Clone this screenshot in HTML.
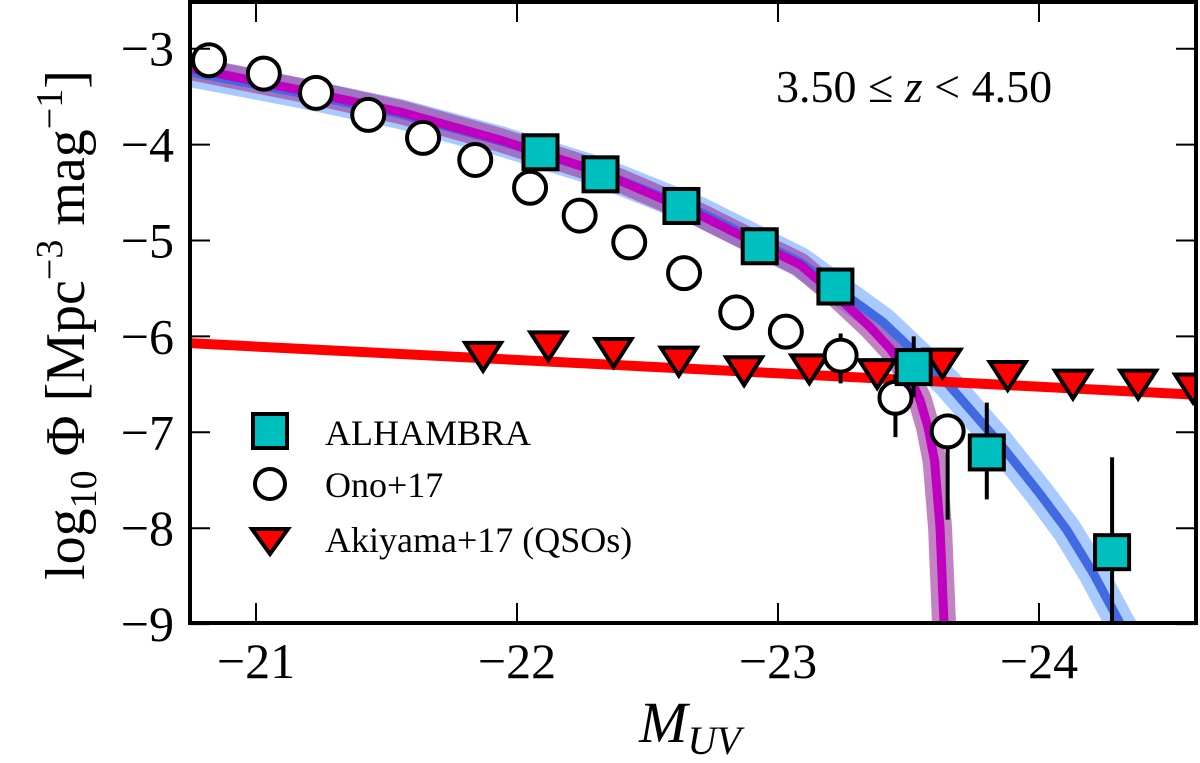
<!DOCTYPE html>
<html><head><meta charset="utf-8"><style>
body{margin:0;background:#fff;}
svg{display:block;}
text{font-family:"Liberation Serif",serif;}
</style></head><body>
<svg id="chart" width="1200" height="763" viewBox="0 0 1200 763" xmlns="http://www.w3.org/2000/svg">
<defs><clipPath id="plotclip"><rect x="190" y="2" width="1006" height="621"/></clipPath></defs>
<g id="plot" clip-path="url(#plotclip)"></g>
<g id="axes"></g>
</svg>
<script>
const xTicks=[-21,-22,-23,-24];
const yTicks=[-3,-4,-5,-6,-7,-8,-9];
const magentaM=[-20.6,-20.747,-21.169,-21.552,-21.935,-22.318,-22.701,-22.931,-23.084,-23.218,-23.352,-23.43,-23.50,-23.544,-23.575,-23.600,-23.621,-23.636,-23.645];
const magentaPhi=[-3.08,-3.201,-3.431,-3.660,-3.952,-4.286,-4.734,-5.047,-5.250,-5.560,-5.900,-6.130,-6.400,-6.663,-6.950,-7.300,-8.000,-8.988,-9.4];
const blueM=[-20.6,-20.747,-21.169,-21.552,-21.935,-22.318,-22.701,-23.084,-23.402,-23.648,-23.851,-24.00,-24.107,-24.21,-24.310,-24.40];
const bluePhi=[-3.12,-3.243,-3.462,-3.681,-3.962,-4.286,-4.703,-5.224,-5.850,-6.486,-7.120,-7.630,-8.020,-8.480,-8.988,-9.4];
const qsoLineM=[-20.6,-24.9];
const qsoLinePhi=[-6.05,-6.65];
const alhM=[-22.09,-22.32,-22.63,-22.93,-23.22,-23.52,-23.80,-24.28];
const alhPhi=[-4.08,-4.31,-4.64,-5.06,-5.48,-6.32,-7.21,-8.25];
const alhLo=[null,null,null,null,null,-6.63,-7.70,-9.6];
const alhHi=[null,null,null,null,null,-6.00,-6.69,-7.26];
const onoM=[-20.82,-21.03,-21.23,-21.43,-21.64,-21.84,-22.05,-22.24,-22.43,-22.64,-22.84,-23.03,-23.24,-23.45,-23.65];
const onoPhi=[-3.12,-3.26,-3.46,-3.69,-3.93,-4.16,-4.45,-4.74,-5.02,-5.34,-5.75,-5.95,-6.20,-6.64,-6.99];
const onoLo=[null,null,null,null,null,null,null,null,null,null,null,null,-6.49,-7.05,-7.91];
const onoHi=[null,null,null,null,null,null,null,null,null,null,null,null,-5.97,-6.40,-6.99];
const akiM=[-21.87,-22.12,-22.37,-22.62,-22.87,-23.12,-23.38,-23.63,-23.88,-24.13,-24.38,-24.59];
const akiPhi=[-6.18,-6.07,-6.14,-6.23,-6.33,-6.31,-6.36,-6.25,-6.38,-6.47,-6.47,-6.51];

const NS="http://www.w3.org/2000/svg";
const X=m=>256-(m+21)*261;
const Y=p=>48.7-(p+3)*95.9;
function mk(tag,attrs,parent){const e=document.createElementNS(NS,tag);for(const k in attrs)e.setAttribute(k,attrs[k]);parent.appendChild(e);return e;}
const plot=document.getElementById('plot');
const axes=document.getElementById('axes');
function pts(ms,ps){return ms.map((m,i)=>X(m)+','+Y(ps[i])).join(' ');}

let e;
e=mk('polyline',{points:pts(blueM,bluePhi),fill:'none',stroke:'#a8caff','stroke-width':30,'stroke-linejoin':'round'},plot);


e=mk('polyline',{points:pts(magentaM,magentaPhi),fill:'none',stroke:'#a040a0','stroke-opacity':0.65,'stroke-width':24,'stroke-linejoin':'round'},plot);


e=mk('polyline',{points:pts(blueM,bluePhi),fill:'none',stroke:'#4169e1','stroke-width':9,'stroke-linejoin':'round'},plot);


e=mk('polyline',{points:pts(magentaM,magentaPhi),fill:'none',stroke:'#bf00bf','stroke-width':9,'stroke-linejoin':'round'},plot);


e=mk('polyline',{points:pts(qsoLineM,qsoLinePhi),fill:'none',stroke:'#ff0000','stroke-width':10},plot);



function errbar(m,lo,hi,name){if(lo===null)return;const l=mk('line',{x1:X(m),x2:X(m),y1:Y(lo),y2:Y(hi),stroke:'#000','stroke-width':4},plot);

}
onoM.forEach((m,i)=>errbar(m,onoLo[i],onoHi[i],'ono-error-bar'));
alhM.forEach((m,i)=>errbar(m,alhLo[i],alhHi[i],'alhambra-error-bar'));

function tri(cx,cy,s){return (cx-s)+','+(cy-s*0.6)+' '+(cx+s)+','+(cy-s*0.6)+' '+cx+','+(cy+s*0.95);}
akiM.forEach((m,i)=>{const t=mk('polygon',{points:tri(X(m),Y(akiPhi[i]),18),fill:'#ff0000',stroke:'#000','stroke-width':4,'stroke-linejoin':'miter'},plot);

});
onoM.forEach((m,i)=>{const c=mk('circle',{cx:X(m),cy:Y(onoPhi[i]),r:16,fill:'#fff',stroke:'#000','stroke-width':4},plot);

});
alhM.forEach((m,i)=>{const r=mk('rect',{x:X(m)-17,y:Y(alhPhi[i])-17,width:34,height:34,fill:'#00bfbf',stroke:'#000','stroke-width':4},plot);

});

e=mk('rect',{x:190,y:2,width:1006,height:621,fill:'none',stroke:'#000','stroke-width':4},axes);


xTicks.forEach(v=>{const x=X(v);
mk('line',{x1:x,x2:x,y1:623,y2:603,stroke:'#000','stroke-width':2},axes);
mk('line',{x1:x,x2:x,y1:2,y2:22,stroke:'#000','stroke-width':2},axes);
const t=mk('text',{x:x,y:678,'font-size':50,'text-anchor':'middle'},axes);t.textContent='\u2212'+Math.abs(v);

});
yTicks.forEach(v=>{const y=Y(v);
mk('line',{x1:190,x2:210,y1:y,y2:y,stroke:'#000','stroke-width':2},axes);
mk('line',{x1:1196,x2:1176,y1:y,y2:y,stroke:'#000','stroke-width':2},axes);
const t=mk('text',{x:174,y:y+17,'font-size':50,'text-anchor':'end'},axes);t.textContent='\u2212'+Math.abs(v);

});
</script>
<svg style="position:absolute;left:0;top:0" width="1200" height="763">
<text x="690" y="742" font-size="58" text-anchor="middle" font-style="italic" font-family="Liberation Serif, serif">M<tspan font-size="40" dy="12">UV</tspan></text>
<text transform="translate(84,325) rotate(-90)" font-size="56" text-anchor="middle" font-family="Liberation Serif, serif">log<tspan font-size="38" dy="12">10</tspan><tspan dy="-12"> Φ [Mpc</tspan><tspan font-size="38" dy="-22">−3</tspan><tspan dy="22"> mag</tspan><tspan font-size="38" dy="-22">−1</tspan><tspan dy="22">]</tspan></text>
<text x="776" y="102" font-size="46" font-family="Liberation Serif, serif">3.50 ≤ <tspan font-style="italic">z</tspan> &lt; 4.50</text>
<g font-family="Liberation Sans, sans-serif" font-size="36">
<rect x="253" y="414" width="34" height="34" fill="#00bfbf" stroke="#000" stroke-width="4"/>
<text x="325" y="445">ALHAMBRA</text>
<circle cx="270" cy="484" r="15" fill="#fff" stroke="#000" stroke-width="4"/>
<text x="325" y="497">Ono+17</text>
<polygon points="252,529 288,529 270,554" fill="#ff0000" stroke="#000" stroke-width="4"/>
<text x="325" y="552">Akiyama+17 (QSOs)</text>
</g>
</svg>
</body></html>
